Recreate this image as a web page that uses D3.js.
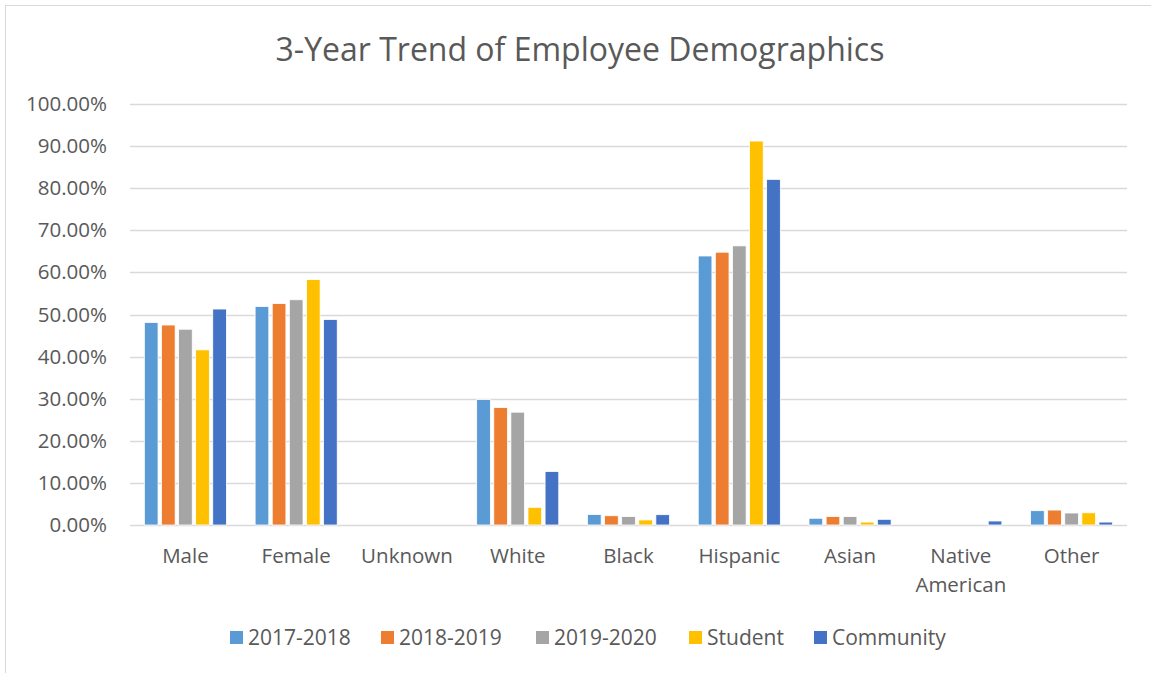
<!DOCTYPE html>
<html>
<head>
<meta charset="utf-8">
<script src="https://cdn.jsdelivr.net/npm/d3@7"></script>
<style>
  body { margin: 0; background: #fff; }
  svg { display: block; font-family: "Open Sans", "Noto Sans", sans-serif; }
</style>
</head>
<body>
<svg id="chart" width="1151" height="673"></svg>
<script>
// data
const categories = ['Male', 'Female', 'Unknown', 'White', 'Black', 'Hispanic', 'Asian', 'Native American', 'Other'];
const seriesNames = ['2017-2018', '2018-2019', '2019-2020', 'Student', 'Community'];
const seriesColors = ['#5b9bd5', '#ed7d31', '#a5a5a5', '#ffc000', '#4472c4'];
const v2017 = [48.1, 51.9, 0, 29.8, 2.5, 63.9, 1.6, 0, 3.4];
const v2018 = [47.5, 52.6, 0, 27.9, 2.2, 64.8, 2.0, 0, 3.55];
const v2019 = [46.5, 53.5, 0, 26.8, 2.0, 66.3, 2.0, 0, 2.85];
const vStudent = [41.6, 58.3, 0, 4.2, 1.2, 91.2, 0.7, 0, 2.9];
const vCommunity = [51.3, 48.8, 0, 12.7, 2.45, 82.1, 1.35, 0.95, 0.7];
const yTicks = [0, 10, 20, 30, 40, 50, 60, 70, 80, 90, 100];

const seriesValues = [v2017, v2018, v2019, vStudent, vCommunity];

const svg = d3.select('#chart');
const textColor = '#595959';

// chart area border (Excel style)
svg.append('rect')
  .attr('x', 5.5).attr('y', 5.5)
  .attr('width', 1160).attr('height', 680)
  .attr('fill', 'none')
  .attr('stroke', '#d9d9d9');

const plot = { left: 130, right: 1127, top: 104, bottom: 525 };

const x = d3.scaleBand().domain(categories).range([plot.left, plot.right]).paddingInner(0).paddingOuter(0);
const y = d3.scaleLinear().domain([0, 100]).range([plot.bottom, plot.top]);

// title
svg.append('text')
  .attr('x', 580).attr('y', 61)
  .attr('text-anchor', 'middle')
  .attr('fill', textColor)
  .attr('font-size', 32)
  .text('3-Year Trend of Employee Demographics');

// gridlines
svg.append('g')
  .selectAll('line')
  .data(yTicks)
  .join('line')
  .attr('x1', plot.left).attr('x2', plot.right)
  .attr('y1', d => Math.round(y(d)) + 0.5).attr('y2', d => Math.round(y(d)) + 0.5)
  .attr('stroke', '#d9d9d9')
  .attr('stroke-width', 1.3);

// y axis labels
const yAxis = d3.axisLeft(y).tickValues(yTicks).tickSize(0).tickPadding(0)
  .tickFormat(d => d.toFixed(2) + '%');
svg.append('g')
  .attr('transform', `translate(${plot.left - 23},0)`)
  .call(yAxis)
  .call(g => g.select('.domain').remove())
  .call(g => g.selectAll('text')
    .attr('fill', textColor)
    .attr('font-size', 20.5)
    .attr('font-family', '"Open Sans", sans-serif'));

// bars
const barStep = 17.1;
const barWidth = 13.7;
const groups = svg.append('g')
  .selectAll('g')
  .data(seriesValues)
  .join('g')
  .attr('fill', (d, i) => seriesColors[i]);

groups.selectAll('rect')
  .data((vals, si) => vals.map((v, ci) => ({ v, ci, si })))
  .join('rect')
  .attr('x', d => x(categories[d.ci]) + x.bandwidth() / 2 + (d.si - 2) * barStep - barWidth / 2)
  .attr('y', d => y(d.v))
  .attr('width', barWidth)
  .attr('height', d => y(0) - y(d.v))
  .attr('stroke', '#fff')
  .attr('stroke-width', 0.8);

// category labels
const xAxis = svg.append('g');
categories.forEach(c => {
  const words = c === 'Native American' ? ['Native', 'American'] : [c];
  const t = xAxis.append('text')
    .attr('x', x(c) + x.bandwidth() / 2)
    .attr('y', 563)
    .attr('text-anchor', 'middle')
    .attr('fill', textColor)
    .attr('font-size', 20.5);
  words.forEach((w, i) => {
    t.append('tspan')
      .attr('x', x(c) + x.bandwidth() / 2)
      .attr('dy', i === 0 ? 0 : 29)
      .text(w);
  });
});

// legend
const legendX = [230, 381, 536, 689, 814];
const legend = svg.append('g');
seriesNames.forEach((name, i) => {
  legend.append('rect')
    .attr('x', legendX[i]).attr('y', 631)
    .attr('width', 13).attr('height', 13)
    .attr('fill', seriesColors[i]);
  legend.append('text')
    .attr('x', legendX[i] + 18).attr('y', 645)
    .attr('fill', textColor)
    .attr('font-size', 21)
    .text(name);
});
</script>
</body>
</html>
